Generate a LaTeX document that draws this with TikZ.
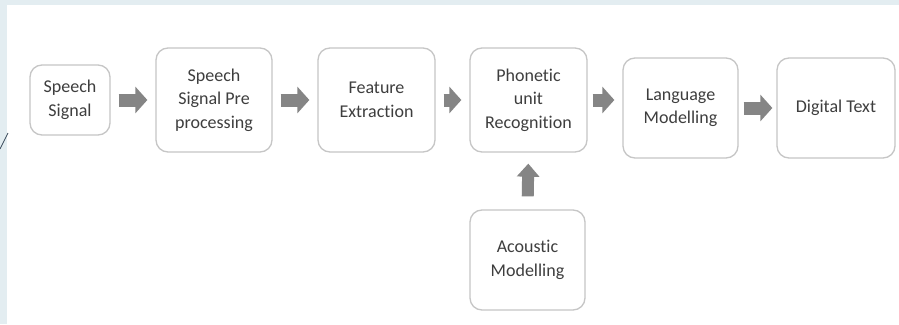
\documentclass[tikz,border=0pt]{standalone}
\usepackage{fontspec}
\setmainfont{Carlito}[Ligatures={NoCommon}]
\usetikzlibrary{arrows.meta}
\definecolor{bgblue}{HTML}{E3EDF1}
\definecolor{boxline}{HTML}{C6C6C6}
\definecolor{txt}{HTML}{3E3E3E}
\definecolor{arr}{HTML}{858585}
\definecolor{slash}{HTML}{3A4A5A}
\tikzset{
  stepbox/.style={draw=boxline, line width=1.3pt, rounded corners=12pt, fill=white,
    align=center, text=txt, font=\fontsize{18}{23.5}\selectfont, inner sep=2pt},
  fatarrow/.style={draw=arr, line width=13pt, line cap=butt,
    -{Triangle[length=12pt,width=26pt]}, shorten <=8pt, shorten >=8pt},
  uparrow/.style={draw=arr, line width=12pt, line cap=butt,
    -{Triangle[length=13pt,width=22pt]}, shorten <=13pt, shorten >=11pt}
}
\begin{document}
\begin{tikzpicture}[x=1pt,y=-1pt]
  \useasboundingbox (0,0) rectangle (899,324);
  \fill[white] (0,0) rectangle (899,324);
  \fill[bgblue] (0,0) rectangle (899,5);
  \fill[bgblue] (0,0) rectangle (7,324);
  \draw[slash, line width=0.8pt] (0,149) -- (8,133);

  \node[stepbox, minimum width=80pt, minimum height=70pt] (ss) at (70,100) {Speech\\Signal};
  \node[stepbox, minimum width=116pt, minimum height=104pt] (pre) at (214,100) {Speech\\Signal Pre\\processing};
  \node[stepbox, minimum width=117pt, minimum height=104pt] (fe) at (376.5,100) {Feature\\Extraction};
  \node[stepbox, minimum width=117pt, minimum height=104pt] (pu) at (528.5,100) {Phonetic\\unit\\Recognition};
  \node[stepbox, minimum width=115pt, minimum height=100pt] (lm) at (680.5,108) {Language\\Modelling};
  \node[stepbox, minimum width=118pt, minimum height=100pt] (dt) at (836,108) {Digital Text};
  \node[stepbox, minimum width=115pt, minimum height=100pt] (am) at (527.5,260) {Acoustic\\Modelling};

  \draw[fatarrow] (ss.east) -- (pre.west);
  \draw[fatarrow] (pre.east) -- (fe.west);
  \draw[fatarrow] (fe.east) -- (pu.west);
  \draw[fatarrow, shorten <=5pt] (pu.east) -- (pu.east -| lm.west);
  \draw[fatarrow, shorten <=5pt, shorten >=4pt] (lm.east) -- (dt.west);
  \draw[uparrow] (am.north) -- (pu.south);
\end{tikzpicture}
\end{document}
